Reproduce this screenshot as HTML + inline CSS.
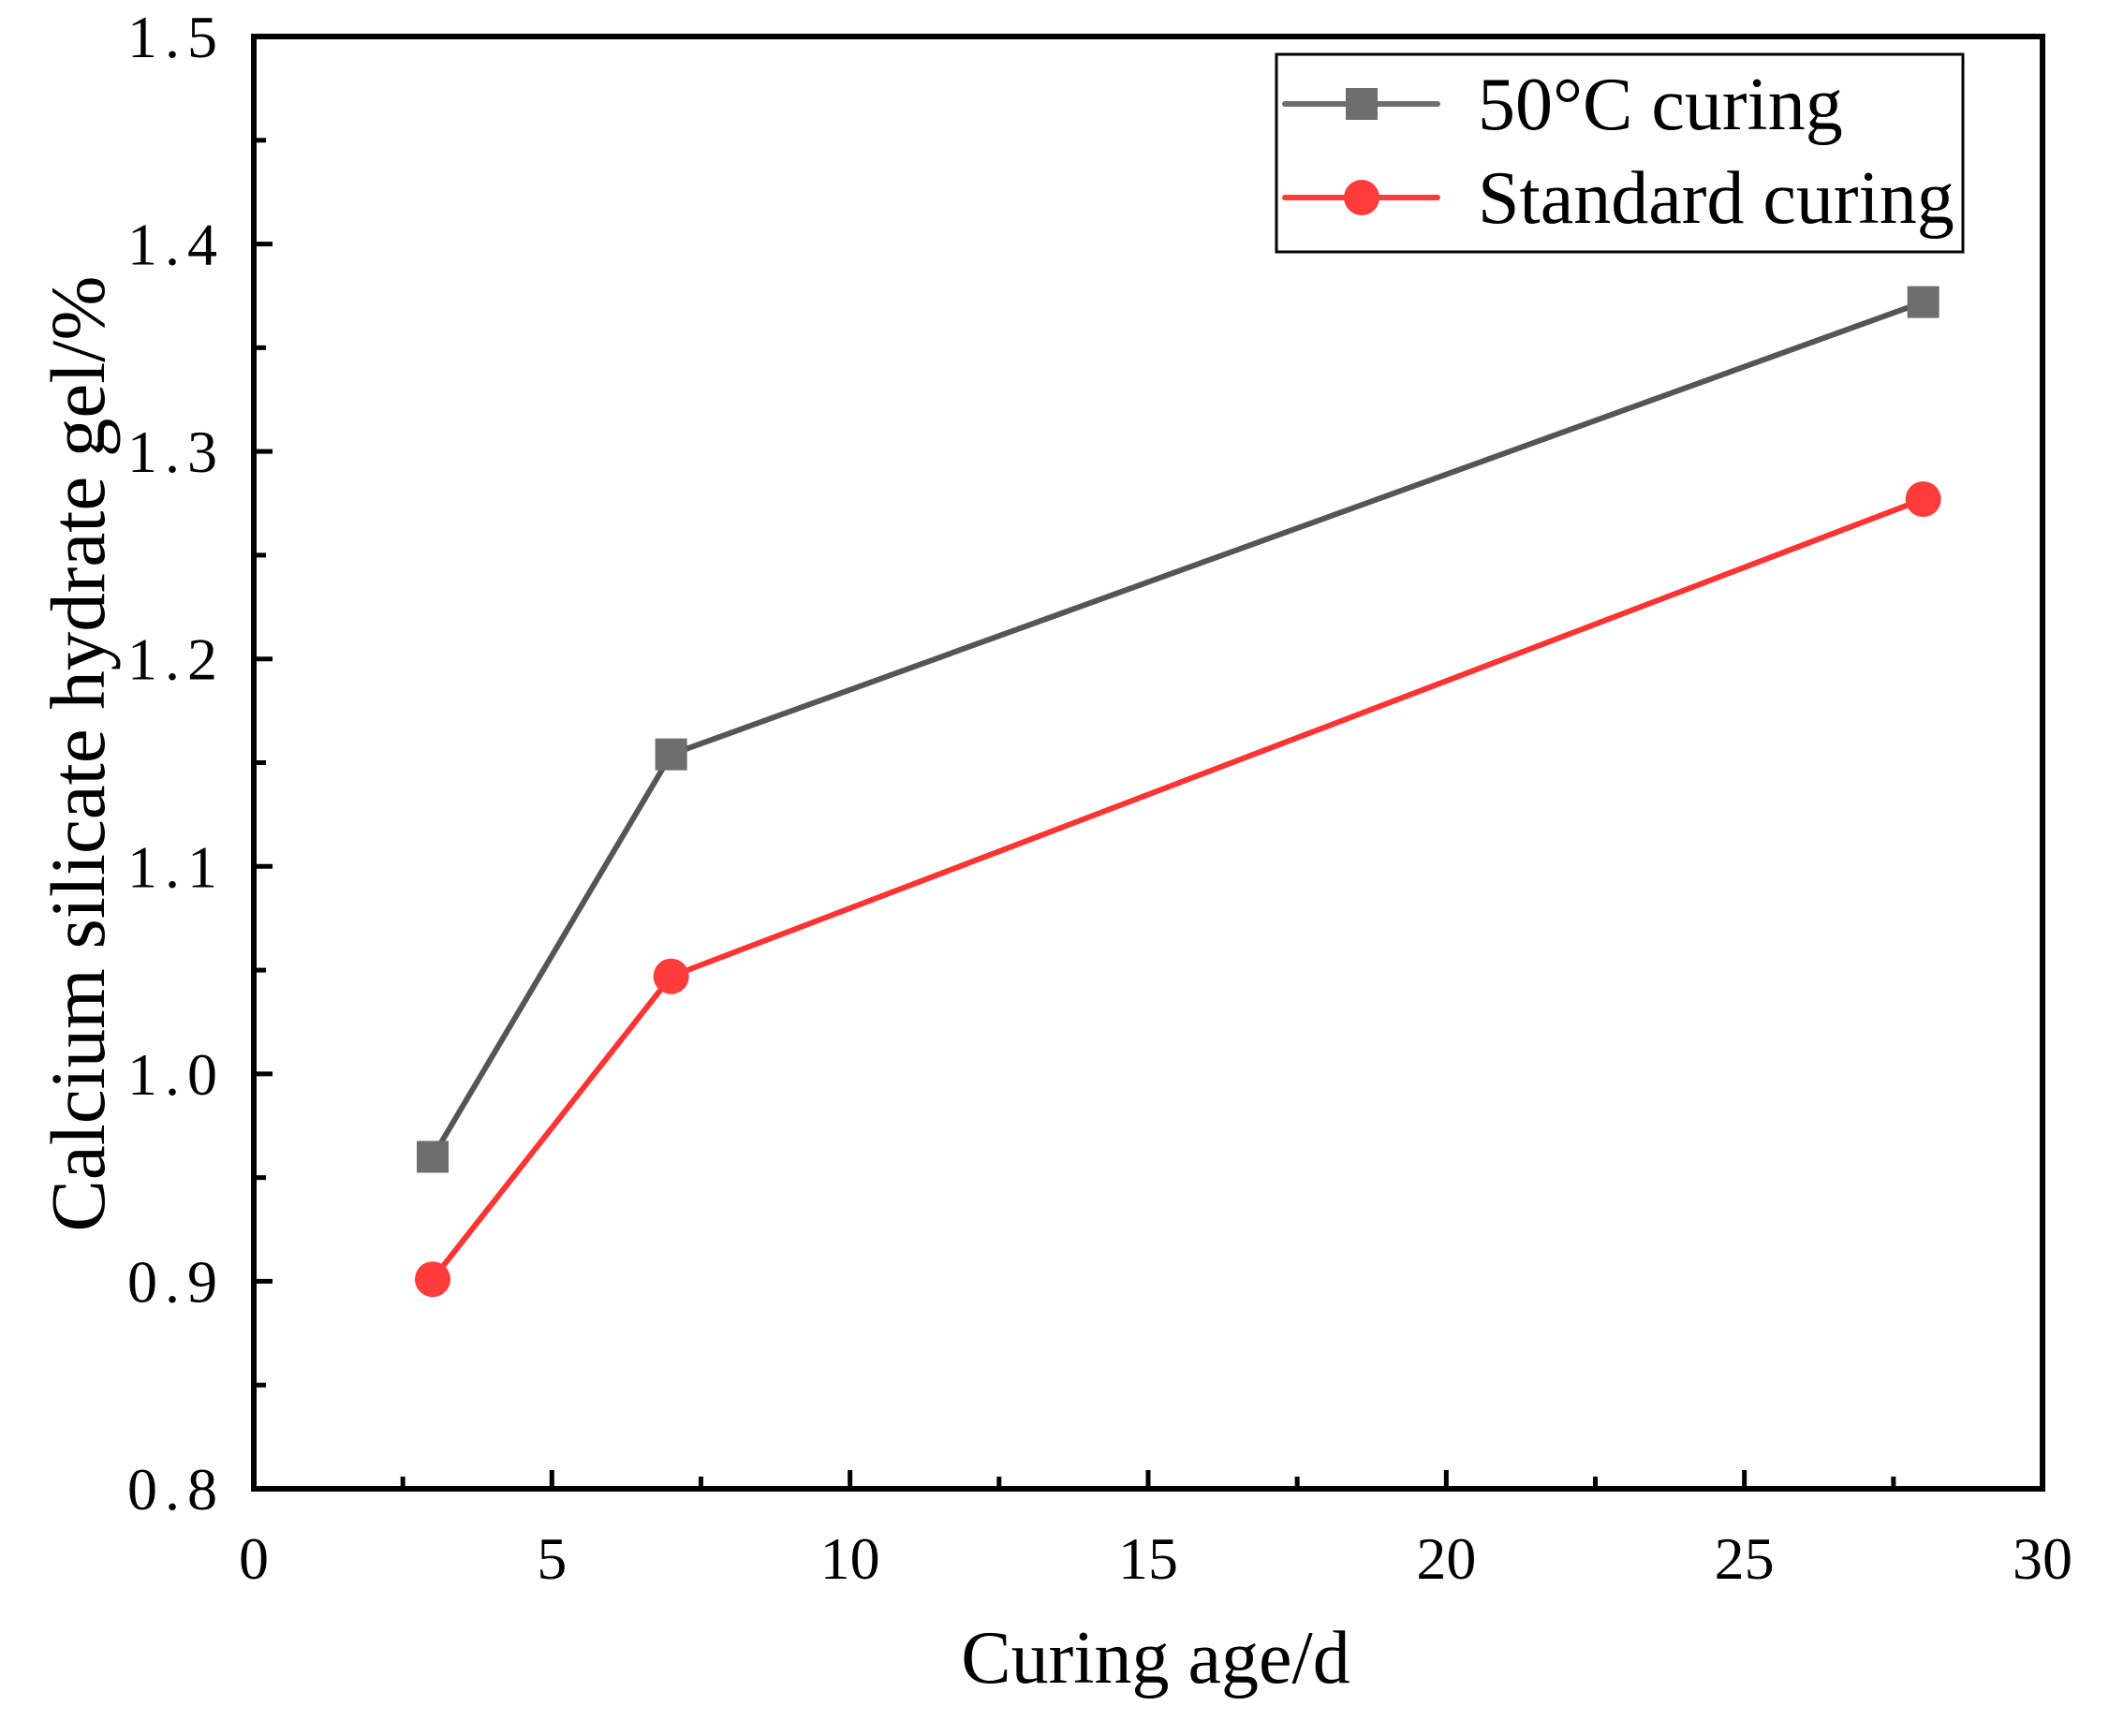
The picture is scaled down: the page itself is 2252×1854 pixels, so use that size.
<!DOCTYPE html>
<html><head><meta charset="utf-8"><style>
html,body{margin:0;padding:0;background:#fff;}
svg{display:block;}
text{font-family:"Liberation Serif",serif;fill:#000;}
</style></head><body>
<svg id="chart" width="2252" height="1854" viewBox="0 0 2252 1854">
</svg>
<script>
const xTicks=[0,5,10,15,20,25,30];
const yTicks=[0.8,0.9,1.0,1.1,1.2,1.3,1.4,1.5];
const yTickLabels=["0.8","0.9","1.0","1.1","1.2","1.3","1.4","1.5"];
const ages=[3,7,28];
const hotValues=[0.96,1.154,1.372];
const stdValues=[0.901,1.047,1.277];
const seriesNames=["50°C curing","Standard curing"];

const L=271,R=2181,T=39,B=1590;
const xs=v=>L+(v-0)/(30-0)*(R-L);
const ys=v=>B-(v-0.8)/(1.5-0.8)*(B-T);
const NS="http://www.w3.org/2000/svg";
const svg=document.getElementById('chart');
function mk(tag,attrs,parent){const e=document.createElementNS(NS,tag);for(const k in attrs)e.setAttribute(k,attrs[k]);(parent||svg).appendChild(e);return e;}

const frame=mk('rect',{x:L,y:T,width:R-L,height:B-T,fill:'none',stroke:'#000','stroke-width':6});



xTicks.forEach((v,i)=>{
  const t=mk('line',{x1:xs(v),x2:xs(v),y1:B,y2:B-20,stroke:'#000','stroke-width':5});
  
  
  if(i<xTicks.length-1){
    const m=mk('line',{x1:xs(v+2.5),x2:xs(v+2.5),y1:B,y2:B-13,stroke:'#000','stroke-width':5});
    
    
  }
  const lb=mk('text',{x:xs(v),y:1686,'text-anchor':'middle','font-size':64});
  lb.textContent=String(v);
  
  
});
yTicks.forEach((v,i)=>{
  const t=mk('line',{x1:L,x2:L+20,y1:ys(v),y2:ys(v),stroke:'#000','stroke-width':5});
  
  
  if(i<yTicks.length-1){
    const m=mk('line',{x1:L,x2:L+13,y1:ys(v+0.05),y2:ys(v+0.05),stroke:'#000','stroke-width':5});
    
    
  }
  const lb=mk('text',{x:240,y:ys(v)+22,'text-anchor':'end','font-size':64,'letter-spacing':'8'});
  lb.textContent=yTickLabels[i];
  
  
});
const xt=mk('text',{x:1234,y:1797,'text-anchor':'middle','font-size':80});
xt.textContent='Curing age/d';


const yt=mk('text',{x:0,y:0,'text-anchor':'middle','font-size':83,transform:'translate(111,805) rotate(-90)'});
yt.textContent='Calcium silicate hydrate gel/%';



function series(vals,color,mcolor,shape,name){
  const g=mk('g',{});
  
  
  const pts=ages.map((a,i)=>xs(a)+','+ys(vals[i])).join(' ');
  const pl=mk('polyline',{points:pts,fill:'none',stroke:color,'stroke-width':6},g);
  
  
  ages.forEach((a,i)=>{
    let m;
    if(shape==='sq') m=mk('rect',{x:xs(a)-17,y:ys(vals[i])-17,width:34,height:34,fill:mcolor},g);
    else m=mk('circle',{cx:xs(a),cy:ys(vals[i]),r:19,fill:mcolor},g);
    
    
  });
}
series(hotValues,'#555555','#6e6e6e','sq','series-50c');
series(stdValues,'#ff3333','#ff3b3b','ci','series-standard');

const lg=mk('g',{});


const lbx=mk('rect',{x:1363,y:58,width:733,height:211,fill:'#fff',stroke:'#000','stroke-width':3},lg);


[[111,'#6e6e6e','sq'],[211,'#ff3b3b','ci']].forEach((e,i)=>{
  const ent=mk('g',{},lg);
  
  
  mk('line',{x1:1372,x2:1535,y1:e[0],y2:e[0],stroke:e[1],'stroke-width':6,'stroke-linecap':'round'},ent);
  if(e[2]==='sq') mk('rect',{x:1437,y:e[0]-17,width:34,height:34,fill:e[1]},ent);
  else mk('circle',{cx:1454,cy:e[0],r:19,fill:e[1]},ent);
  const tx=mk('text',{x:1578,y:e[0]+27,'font-size':80},ent);
  tx.textContent=seriesNames[i];
  
  
});
</script>
</body></html>
